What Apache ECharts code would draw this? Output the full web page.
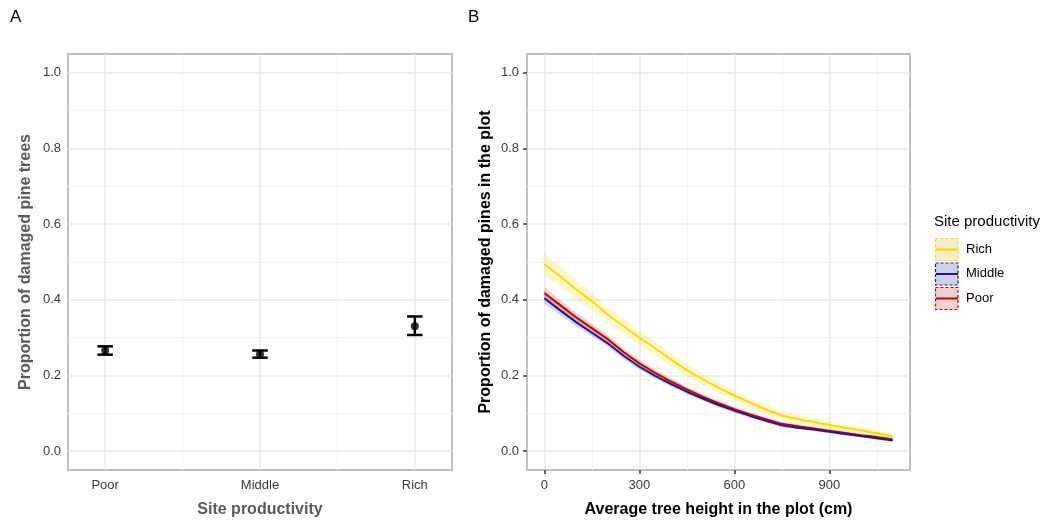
<!DOCTYPE html>
<html><head><meta charset="utf-8">
<script src="https://cdn.jsdelivr.net/npm/echarts@6.0.0/dist/echarts.min.js"></script>
<style>html,body{margin:0;padding:0;background:#fff}#c{width:1046px;height:521px}</style>
</head><body><div id="c"></div>
<script>
// ---- Panel A data ----
const siteCategories = ['Poor', 'Middle', 'Rich'];
const siteMean = [0.266, 0.256, 0.330];
const siteLow  = [0.255, 0.247, 0.307];
const siteHigh = [0.277, 0.266, 0.356];

// ---- shared tick values ----
const yTicks = [0, 0.2, 0.4, 0.6, 0.8, 1.0];
const yMinorTicks = [0.1, 0.3, 0.5, 0.7, 0.9];
const heightTicks = [0, 300, 600, 900];
const heightMinorTicks = [150, 450, 750, 1050];

// ---- Panel B data ----
const heights = [0,50,100,150,200,250,300,350,400,450,500,550,600,650,700,750,800,850,900,950,1000,1050,1100];
const richFit   = [0.494,0.462,0.428,0.396,0.361,0.330,0.300,0.272,0.242,0.214,0.190,0.168,0.147,0.128,0.110,0.094,0.085,0.077,0.069,0.062,0.055,0.047,0.038];
const middleFit = [0.404,0.372,0.341,0.313,0.285,0.252,0.223,0.199,0.177,0.157,0.139,0.122,0.107,0.093,0.080,0.068,0.062,0.057,0.051,0.045,0.040,0.034,0.028];
const poorFit   = [0.418,0.386,0.354,0.325,0.296,0.262,0.232,0.207,0.184,0.163,0.144,0.127,0.111,0.097,0.084,0.072,0.066,0.060,0.054,0.048,0.042,0.037,0.031];
const richHalf   = [0.030,0.027,0.025,0.023,0.021,0.020,0.019,0.018,0.017,0.016,0.015,0.014,0.013,0.012,0.012,0.011,0.011,0.010,0.010,0.009,0.009,0.008,0.008];
const middleHalf = [0.014,0.012,0.011,0.010,0.009,0.009,0.008,0.008,0.007,0.007,0.006,0.006,0.006,0.005,0.005,0.005,0.005,0.004,0.004,0.004,0.004,0.004,0.004];
const poorHalf   = [0.016,0.014,0.012,0.011,0.010,0.009,0.009,0.008,0.008,0.007,0.007,0.006,0.006,0.006,0.005,0.005,0.005,0.005,0.004,0.004,0.004,0.004,0.004];

const legendNames = ['Rich', 'Middle', 'Poor'];

const FONT = '"Liberation Sans", Arial, sans-serif';
const lineColors = { Rich: '#FFD700', Middle: '#1E1A8C', Poor: '#CC0000' };
const ribbonColors = { Rich: 'rgba(255,215,0,0.2)', Middle: 'rgba(20,20,140,0.18)', Poor: 'rgba(210,0,0,0.18)' };
const keyFills = { Rich: '#f4eecb', Middle: '#cfd0e3', Poor: '#efd1d2' };
const fits = { Rich: richFit, Middle: middleFit, Poor: poorFit };
const halves = { Rich: richHalf, Middle: middleHalf, Poor: poorHalf };

const majorGrid = { show: true, lineStyle: { color: '#e9e9e9', width: 1.5 } };
const minorGrid = { show: true, lineStyle: { color: '#f2f2f2', width: 1 } };

function hiddenAxis(gridIndex, min, max, ticks, pos) {
  return {
    gridIndex, type: 'value', min, max, position: pos,
    axisLine: { show: false, onZero: false }, axisLabel: { show: false },
    axisTick: { show: false, customValues: ticks },
    splitLine: minorGrid
  };
}

const chart = echarts.init(document.getElementById('c'), null, { renderer: 'canvas' });

function ribbonSeries(name) {
  const f = fits[name], h = halves[name];
  return {
    type: 'custom', xAxisIndex: 2, yAxisIndex: 2, clip: true, silent: true, z: 1,
    data: heights.map((x, i) => [x, f[i] - h[i], f[i] + h[i]]),
    renderItem: function (params, api) {
      if (params.dataIndex !== 0) return null;
      const upper = heights.map((x, i) => api.coord([x, f[i] + h[i]]));
      const lower = heights.map((x, i) => api.coord([x, f[i] - h[i]])).reverse();
      return { type: 'polygon', shape: { points: upper.concat(lower) }, style: { fill: ribbonColors[name] } };
    }
  };
}

function lineSeries(name) {
  return {
    type: 'line', name, xAxisIndex: 2, yAxisIndex: 2, showSymbol: false, z: 3,
    data: heights.map((x, i) => [x, fits[name][i]]),
    lineStyle: { color: lineColors[name], width: 2 }, itemStyle: { color: lineColors[name] }
  };
}

const graphics = [
  { type: 'text', left: 10, top: 9, style: { text: 'A', font: '17px ' + FONT, fill: '#000' } },
  { type: 'text', left: 468, top: 9, style: { text: 'B', font: '17px ' + FONT, fill: '#000' } },
  { type: 'text', left: 934, top: 214, style: { text: 'Site productivity', font: '15px ' + FONT, fill: '#000' } }
];
legendNames.forEach((n, i) => {
  const y0 = 238.5 + i * 24.5;
  graphics.push({ type: 'rect', shape: { x: 935.5, y: y0, width: 22.5, height: 22 },
    style: { fill: keyFills[n], stroke: lineColors[n], lineWidth: 1.2, lineDash: [3, 2] } });
  graphics.push({ type: 'line', shape: { x1: 936, y1: y0 + 11, x2: 958, y2: y0 + 11 },
    style: { stroke: lineColors[n], lineWidth: 2 } });
  graphics.push({ type: 'text', left: 966, top: y0 + 4, style: { text: n, font: '13px ' + FONT, fill: '#000' } });
});

const option = {
  backgroundColor: '#fff',
  animation: false,
  grid: [
    { left: 68, right: 594, top: 54, bottom: 51, outerBoundsMode: 'none', containLabel: false, show: true, borderColor: '#bfbfbf', borderWidth: 2, backgroundColor: 'transparent' },
    { left: 527, right: 136, top: 54, bottom: 51, outerBoundsMode: 'none', containLabel: false, show: true, borderColor: '#bfbfbf', borderWidth: 2, backgroundColor: 'transparent' }
  ],
  xAxis: [
    { gridIndex: 0, type: 'value', min: 0.76, max: 3.24, position: 'bottom',
      axisLine: { show: false, onZero: false },
      axisTick: { show: false, customValues: [1, 2, 3] },
      axisLabel: { customValues: [1, 2, 3], formatter: v => siteCategories[Math.round(v) - 1], color: '#3a3a3a', fontSize: 13, fontFamily: FONT, margin: 9 },
      splitLine: majorGrid,
      name: 'Site productivity', nameLocation: 'middle', nameGap: 32,
      nameTextStyle: { color: '#5a5a5a', fontSize: 16, fontWeight: 'bold', fontFamily: FONT } },
    hiddenAxis(0, 0.76, 3.24, [1.5, 2.5], 'top'),
    { gridIndex: 1, type: 'value', min: -55, max: 1155, position: 'bottom',
      axisLine: { show: false, onZero: false },
      axisTick: { show: true, customValues: heightTicks, length: 4, lineStyle: { color: '#333', width: 1.5 } },
      axisLabel: { customValues: heightTicks, color: '#3a3a3a', fontSize: 13, fontFamily: FONT, margin: 9 },
      splitLine: majorGrid,
      name: 'Average tree height in the plot (cm)', nameLocation: 'middle', nameGap: 32,
      nameTextStyle: { color: '#000', fontSize: 16, fontWeight: 'bold', fontFamily: FONT } },
    hiddenAxis(1, -55, 1155, heightMinorTicks, 'top')
  ],
  yAxis: [
    { gridIndex: 0, type: 'value', min: -0.05, max: 1.05, position: 'left',
      axisLine: { show: false, onZero: false },
      axisTick: { show: false, customValues: yTicks },
      axisLabel: { customValues: yTicks, formatter: v => v.toFixed(1), color: '#3a3a3a', fontSize: 13, fontFamily: FONT, margin: 7 },
      splitLine: majorGrid,
      name: 'Proportion of damaged pine trees', nameLocation: 'middle', nameGap: 34,
      nameTextStyle: { color: '#5a5a5a', fontSize: 16, fontWeight: 'bold', fontFamily: FONT } },
    hiddenAxis(0, -0.05, 1.05, yMinorTicks, 'right'),
    { gridIndex: 1, type: 'value', min: -0.05, max: 1.05, position: 'left',
      axisLine: { show: false, onZero: false },
      axisTick: { show: true, customValues: yTicks, length: 4, lineStyle: { color: '#333', width: 1.5 } },
      axisLabel: { customValues: yTicks, formatter: v => v.toFixed(1), color: '#3a3a3a', fontSize: 13, fontFamily: FONT, margin: 8 },
      splitLine: majorGrid,
      name: 'Proportion of damaged pines in the plot', nameLocation: 'middle', nameGap: 33,
      nameTextStyle: { color: '#000', fontSize: 16, fontWeight: 'bold', fontFamily: FONT } },
    hiddenAxis(1, -0.05, 1.05, yMinorTicks, 'right')
  ],
  series: [
    { type: 'custom', xAxisIndex: 0, yAxisIndex: 0, z: 3,
      data: siteCategories.map((c, i) => [i + 1, siteLow[i], siteHigh[i]]),
      renderItem: function (params, api) {
        const x = api.value(0), lo = api.value(1), hi = api.value(2);
        const pLo = api.coord([x, lo]), pHi = api.coord([x, hi]);
        const capL = api.coord([x - 0.05, lo])[0], capR = api.coord([x + 0.05, lo])[0];
        const st = { stroke: '#000', lineWidth: 2.5 };
        return { type: 'group', children: [
          { type: 'line', shape: { x1: pLo[0], y1: pLo[1], x2: pHi[0], y2: pHi[1] }, style: st },
          { type: 'line', shape: { x1: capL, y1: pLo[1], x2: capR, y2: pLo[1] }, style: st },
          { type: 'line', shape: { x1: capL, y1: pHi[1], x2: capR, y2: pHi[1] }, style: st }
        ] };
      } },
    { type: 'scatter', xAxisIndex: 0, yAxisIndex: 0, z: 4, symbolSize: 8,
      data: siteCategories.map((c, i) => [i + 1, siteMean[i]]), itemStyle: { color: '#000' } },
    ribbonSeries('Rich'), ribbonSeries('Middle'), ribbonSeries('Poor'),
    lineSeries('Poor'), lineSeries('Middle'), lineSeries('Rich')
  ],
  graphic: graphics
};
chart.setOption(option);
</script></body></html>
